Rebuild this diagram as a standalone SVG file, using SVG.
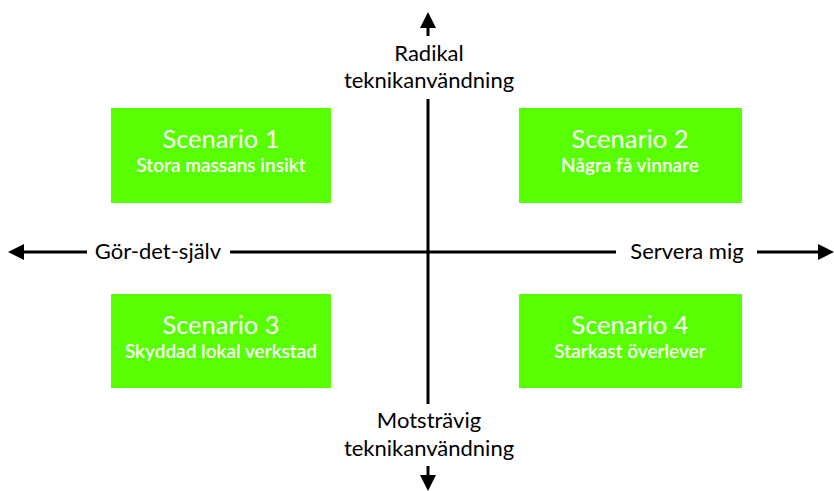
<svg xmlns="http://www.w3.org/2000/svg" width="834" height="491" viewBox="0 0 834 491">
<style>
.box{fill:#58ff00}
.t1{font-family:Lato,"Open Sans",sans-serif;font-size:25.5px;fill:#fff;text-anchor:middle}
.t2{font-family:Lato,"Open Sans",sans-serif;font-size:19px;font-weight:600;fill:#fff;text-anchor:middle}
.ax{font-family:Lato,"Open Sans",sans-serif;font-size:22px;fill:#000;text-anchor:middle}
.ln{stroke:#000;stroke-width:3;fill:none}
.ah{fill:#000}
</style>
<rect width="834" height="491" fill="#fff"/>
<g id="connectors">
<line class="ln" x1="428" y1="26" x2="428" y2="36"/>
<line class="ln" x1="428" y1="99" x2="428" y2="404"/>
<line class="ln" x1="428" y1="466" x2="428" y2="478"/>
<line class="ln" x1="22" y1="252" x2="87" y2="252"/>
<line class="ln" x1="230" y1="252" x2="616" y2="252"/>
<line class="ln" x1="757" y1="252" x2="820" y2="252"/>
<polygon class="ah" points="428,12 420,28 436,28"/>
<polygon class="ah" points="428,491 420,475 436,475"/>
<polygon class="ah" points="8,252 24,244 24,260"/>
<polygon class="ah" points="834,252 818,244 818,260"/>
</g>
<g id="label-top"><text class="ax" x="429" y="61">Radikal</text><text class="ax" x="429" y="88">teknikanvändning</text></g>
<g id="label-bottom"><text class="ax" x="429" y="428">Motsträvig</text><text class="ax" x="429" y="456">teknikanvändning</text></g>
<g id="label-left"><text class="ax" x="158" y="259">Gör-det-själv</text></g>
<g id="label-right"><text class="ax" x="687" y="259">Servera mig</text></g>
<g id="scenario1"><rect class="box" x="111" y="108" width="220" height="95"/><text class="t1" x="221" y="148">Scenario 1</text><text class="t2" x="221" y="172">Stora massans insikt</text></g>
<g id="scenario2"><rect class="box" x="519" y="108" width="223" height="95"/><text class="t1" x="630" y="148">Scenario 2</text><text class="t2" x="630" y="172">Några få vinnare</text></g>
<g id="scenario3"><rect class="box" x="111" y="294" width="220" height="94"/><text class="t1" x="221" y="334">Scenario 3</text><text class="t2" x="221" y="358">Skyddad lokal verkstad</text></g>
<g id="scenario4"><rect class="box" x="519" y="294" width="223" height="94"/><text class="t1" x="630" y="334">Scenario 4</text><text class="t2" x="630" y="358">Starkast överlever</text></g>
</svg>
